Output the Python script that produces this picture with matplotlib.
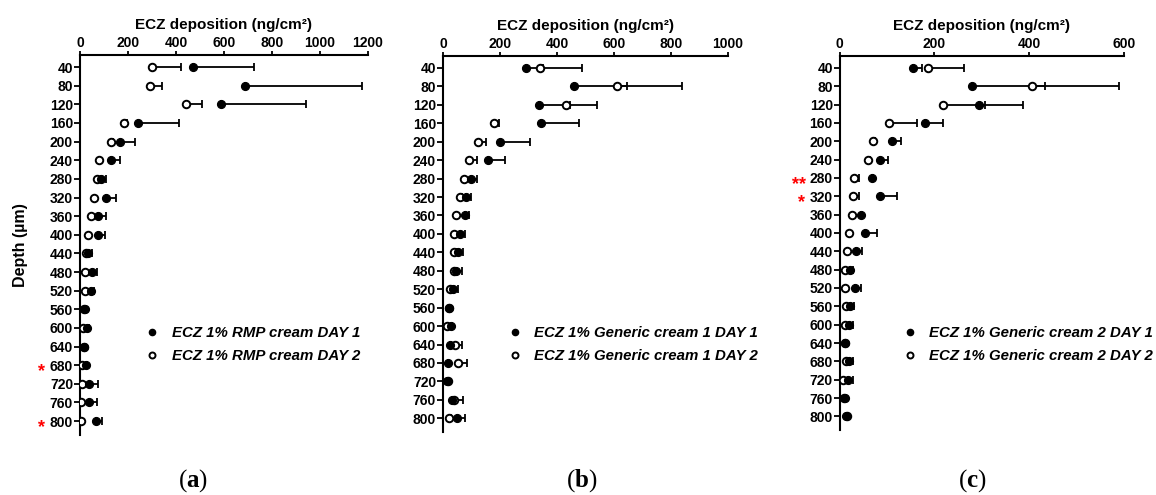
import numpy as np
import matplotlib
matplotlib.use("Agg")
import matplotlib.pyplot as plt

plt.rcParams['font.family'] = ['Liberation Sans', 'DejaVu Sans']
plt.rcParams['mathtext.fontset'] = 'custom'
plt.rcParams['mathtext.bf'] = 'Liberation Serif:bold'
plt.rcParams['mathtext.rm'] = 'Liberation Serif'

depth = [40, 80, 120, 160, 200, 240, 280, 320, 360, 400,
         440, 480, 520, 560, 600, 640, 680, 720, 760, 800]

# Panel (a) RMP cream
a_day1 = [473, 689, 588, 240, 166, 131, 86, 107, 77, 74, 35, 49, 45, 19, 31, 18, 26, 38, 38, 68]
a_err1 = [254, 488, 352, 174, 64, 35, 21, 42, 33, 30, 17, 21, 13, 3, 7, 2, 4, 37, 32, 25]
a_day2 = [302, 291, 441, 184, 128, 79, 70, 58, 47, 33, 26, 21, 21, 15, 13, 15, 10, 7, 6, 4]
a_err2 = [118, 52, 67, 10, 8, 6, 5, 5, 5, 5, 3, 3, 3, 2, 3, 2, 2, 2, 2, 1]

# Panel (b) Generic cream 1
b_day1 = [291, 459, 338, 343, 201, 159, 98, 81, 76, 60, 51, 47, 36, 22, 28, 25, 16, 15, 30, 50]
b_err1 = [197, 380, 204, 134, 104, 58, 22, 17, 16, 17, 18, 21, 18, 3, 4, 3, 2, 2, 5, 27]
b_day2 = [342, 611, 433, 180, 124, 91, 74, 61, 44, 37, 40, 40, 25, 20, 15, 42, 51, 19, 40, 22]
b_err2 = [10, 33, 12, 17, 27, 29, 5, 5, 5, 5, 5, 5, 5, 3, 3, 23, 32, 3, 31, 5]

# Panel (c) Generic cream 2
c_day1 = [154, 279, 295, 181, 110, 84, 68, 85, 45, 53, 34, 22, 33, 22, 20, 12, 20, 18, 11, 13]
c_err1 = [20, 311, 91, 36, 19, 18, 3, 35, 3, 26, 14, 7, 11, 8, 7, 2, 9, 9, 2, 3]
c_day2 = [186, 406, 218, 105, 70, 59, 30, 27, 26, 20, 16, 12, 12, 13, 12, 12, 13, 7, 10, 16]
c_err2 = [77, 27, 89, 58, 5, 4, 11, 14, 3, 2, 2, 2, 2, 2, 2, 2, 2, 2, 2, 2]

labels_a = ["ECZ 1% RMP cream DAY 1", "ECZ 1% RMP cream DAY 2"]
labels_b = ["ECZ 1% Generic cream 1 DAY 1", "ECZ 1% Generic cream 1 DAY 2"]
labels_c = ["ECZ 1% Generic cream 2 DAY 1", "ECZ 1% Generic cream 2 DAY 2"]

panels = [
    dict(d1=a_day1, e1=a_err1, d2=a_day2, e2=a_err2, labels=labels_a, xmax=1200,
         xticks=[0, 200, 400, 600, 800, 1000, 1200], letter='a',
         rect=[0.0692, 0.121, 0.2491, 0.768], leg=(0.128, 0.304), lettx=0.167,
         stars={680: '*', 800: '*'}),
    dict(d1=b_day1, e1=b_err1, d2=b_day2, e2=b_err2, labels=labels_b, xmax=1000,
         xticks=[0, 200, 400, 600, 800, 1000], letter='b',
         rect=[0.3832, 0.127, 0.2466, 0.760], leg=(0.4415, 0.304), lettx=0.503,
         stars={}),
    dict(d1=c_day1, e1=c_err1, d2=c_day2, e2=c_err2, labels=labels_c, xmax=600,
         xticks=[0, 200, 400, 600], letter='c',
         rect=[0.7264, 0.131, 0.2459, 0.756], leg=(0.783, 0.304), lettx=0.841,
         stars={280: '**', 320: '*'}),
]

fig = plt.figure(figsize=(11.56, 4.95), dpi=100)

for p in panels:
    ax = fig.add_axes(p['rect'])
    ax.errorbar(p['d1'], depth, xerr=[np.zeros(len(depth)), p['e1']], fmt='none',
                ecolor='black', elinewidth=1.3, capsize=3.2, capthick=1.3, zorder=2)
    ax.errorbar(p['d2'], depth, xerr=[np.zeros(len(depth)), p['e2']], fmt='none',
                ecolor='black', elinewidth=1.3, capsize=3.2, capthick=1.3, zorder=2)
    ax.plot(p['d2'], depth, 'o', ms=5.4, mfc='white', mec='black', mew=1.4,
            ls='none', zorder=3, label=p['labels'][1])
    ax.plot(p['d1'], depth, 'o', ms=5.6, mfc='black', mec='black', mew=1.0,
            ls='none', zorder=4, label=p['labels'][0])

    ax.set_xlim(0, p['xmax'])
    ax.set_ylim(830, 14)
    ax.set_xticks(p['xticks'])
    ax.set_yticks(depth)
    ax.xaxis.tick_top()
    ax.xaxis.set_label_position('top')
    for s in ['right', 'bottom']:
        ax.spines[s].set_visible(False)
    for s in ['left', 'top']:
        ax.spines[s].set_linewidth(1.5)
    ax.tick_params(axis='x', direction='out', length=3, width=1.3,
                   labelsize=10, pad=0.5)
    ax.tick_params(axis='y', direction='out', length=4.5, width=1.3,
                   labelsize=10, pad=0.5)
    for lab in ax.get_xticklabels() + ax.get_yticklabels():
        lab.set_fontweight('bold')
    ax.set_xlabel("ECZ deposition (ng/cm²)", fontsize=11, fontweight='bold', labelpad=5)
    if p['letter'] == 'a':
        ax.set_ylabel("Depth (µm)", fontsize=11.5, fontweight='bold', labelpad=16)

    for yv, s in p['stars'].items():
        ax.annotate(s, xy=(0, yv), xycoords=ax.get_yaxis_transform(),
                    xytext=(-27.5 - 2.0 * (len(s) - 1), -4.5), textcoords='offset points',
                    ha='center', va='center', color='red', fontsize=13, fontweight='bold')

    handles, labs = ax.get_legend_handles_labels()
    order = [1, 0]
    fig.legend([handles[i] for i in order], [labs[i] for i in order],
               loc='center left', bbox_to_anchor=p['leg'], frameon=False,
               handlelength=0.6, handletextpad=1.0, markerscale=0.8,
               labelspacing=0.6, borderaxespad=0, borderpad=0,
               prop={'weight': 'bold', 'style': 'italic', 'size': 10.8})

    fig.text(p['lettx'], 0.03, '(' + r'$\mathbf{' + p['letter'] + r'}$' + ')',
             ha='center', va='center', fontsize=18, family='Liberation Serif')

fig.savefig('out.png', dpi=100)
